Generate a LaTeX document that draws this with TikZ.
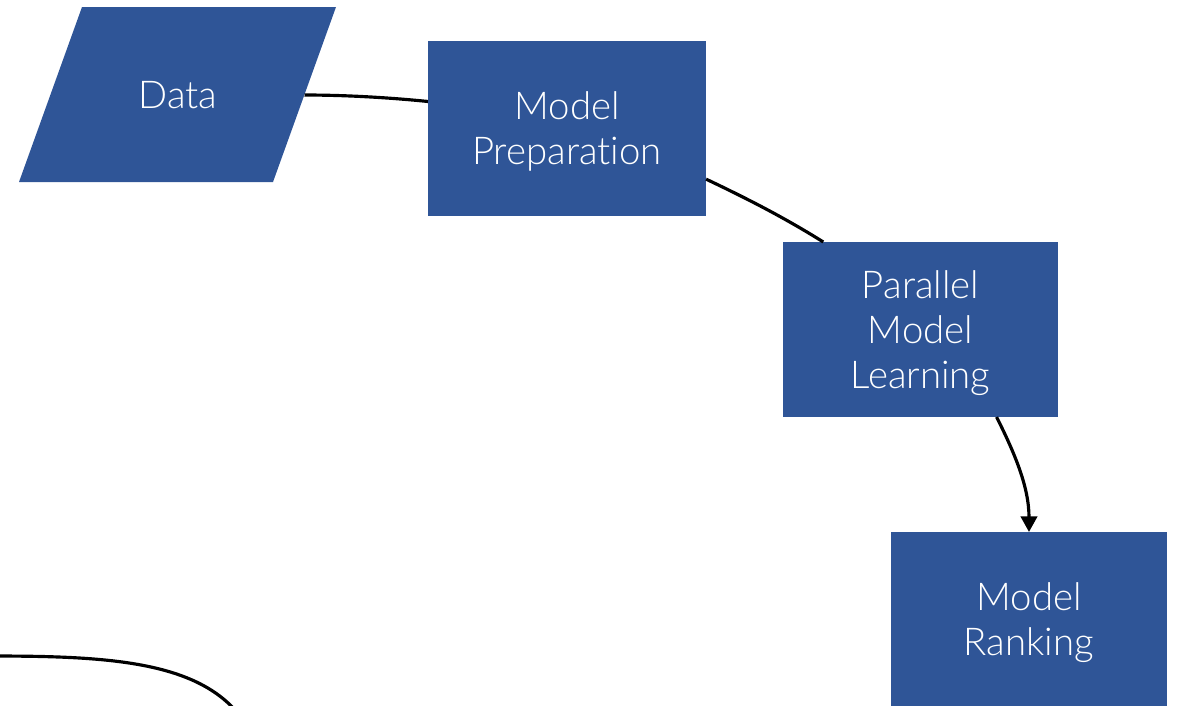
\documentclass[tikz,border=0pt]{standalone}
\usepackage{fontspec}
\setmainfont{Lato}[UprightFont={* Light}, Ligatures={NoCommon,NoContextual}]
\usetikzlibrary{arrows.meta}
\definecolor{boxblue}{RGB}{47,85,151}
\tikzset{
  labelfont/.style={text=white, font=\fontsize{10.9pt}{12.8pt}\selectfont},
  blockbox/.style={rectangle, fill=boxblue, draw=none, inner sep=0pt, outer sep=0pt,
    minimum height=1.75cm, text depth=0pt, align=center, labelfont},
  flow/.style={line width=0.9pt, draw=black},
  flowarrow/.style={flow, -{Triangle[width=4.6pt,length=4.4pt]}}
}
\begin{document}
\begin{tikzpicture}[x=0.01cm, y=-0.01cm]
  \useasboundingbox (0,0) rectangle (1178,705);
  \clip (0,0) rectangle (1178,705);

  % input data (parallelogram)
  \fill[boxblue] (82,7) -- (336,7) -- (273,182) -- (19,182) -- cycle;
  \node[labelfont] (data) at (178,95) {Data};
  \coordinate (dataout) at (304.5,95);

  % process blocks
  \node[blockbox, minimum width=2.78cm] (prep) at (567,128.5) {Model\\Preparation};
  \node[blockbox, minimum width=2.75cm] (pml) at (920.5,329.5) {Parallel\\Model\\Learning};
  \node[blockbox, minimum width=2.76cm] (rank) at (1029,619.5) {Model\\Ranking};

  % connectors
  \draw[flow] (dataout) .. controls +(40,0) and +(-40,-4) .. (prep.169.6);
  \draw[flow] (prep.-20.7) .. controls +(40,19) and +(-40,-25) .. (pml.138.4);
  \draw[flowarrow] (pml.-49.5) .. controls +(18,36) and +(0,-45) .. (rank.north);

  % return path entering from the left
  \coordinate (loopa) at (-10,656);
  \coordinate (loopb) at (235,710);
  \draw[flow] (loopa) .. controls (100,656) and (190,660) .. (loopb);
\end{tikzpicture}
\end{document}
